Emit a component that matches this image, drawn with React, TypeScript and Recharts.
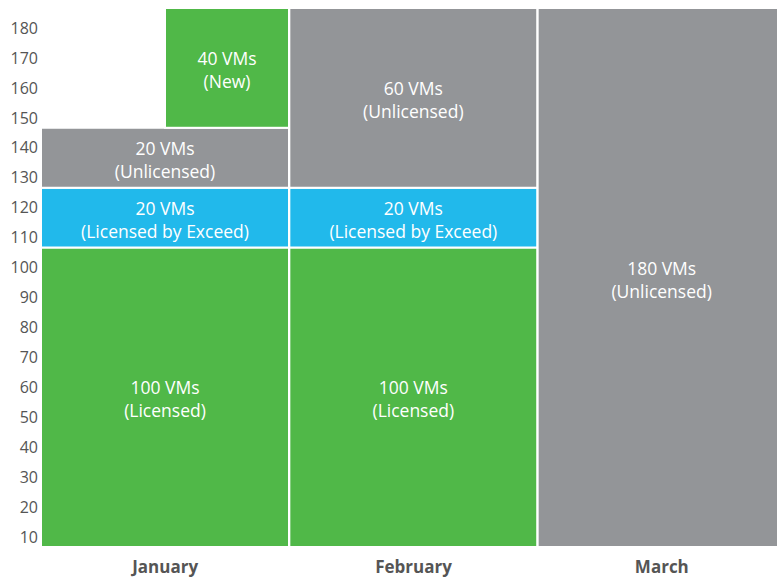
import React from 'react';
import { BarChart, Bar, XAxis, YAxis, LabelList } from 'recharts';

const months = ['January', 'February', 'March'];
const licensed = [100, 100, 0];
const exceed = [20, 20, 0];
const unlicensed = [20, 60, 180];
const newVms = [40, 0, 0];
const yTicks = [10, 20, 30, 40, 50, 60, 70, 80, 90, 100, 110, 120, 130, 140, 150, 160, 170, 180];

const GREEN = '#50b848';
const BLUE = '#21b9eb';
const GRAY = '#939598';
const FONT = '"Open Sans", "Noto Sans", sans-serif';

const data = months.map((month, i) => ({
  month,
  licensed: licensed[i],
  exceed: exceed[i],
  unlicensed: unlicensed[i],
  newVms: newVms[i],
}));

// two-line white label in the middle of a segment
const segmentLabel = (caption: string, half = false) => (props: any) => {
  const { x, y, width, height, value } = props;
  if (!value) return null;
  const cx = half ? x + (width * 3) / 4 : x + width / 2;
  const cy = y + height / 2 + 2;
  return (
    <text x={cx} textAnchor="middle" fill="#fff" fontSize={17.5} fontFamily={FONT}>
      <tspan x={cx} y={cy - 5}>{`${value} VMs`}</tspan>
      <tspan x={cx} y={cy + 18}>{caption}</tspan>
    </text>
  );
};

// the new VMs only take the right half of the column
const HalfBar = (props: any) => {
  const { x, y, width, height, fill } = props;
  if (!height) return null;
  return <rect x={x + width / 2} y={y} width={width / 2} height={height} fill={fill} stroke="#fff" strokeWidth={2} />;
};

const YTick = (props: any) => {
  const { x, y, payload } = props;
  return (
    <text x={x} y={y + 20} dy="0.355em" textAnchor="end" fill="#555" fontSize={16} fontFamily={FONT}>
      {payload.value}
    </text>
  );
};

const XTick = (props: any) => {
  const { x, y, payload } = props;
  return (
    <text x={x} y={y + 12} dy="0.355em" textAnchor="middle" fill="#555" fontSize={17} fontWeight="bold" fontFamily={FONT}>
      {payload.value}
    </text>
  );
};

const App = () => {
  return (
    <div style={{ position: 'absolute', left: 0, top: 0, background: '#fff', overflow: 'hidden', width: 777, height: 583 }}>
      <BarChart
        width={777}
        height={583}
        data={data}
        barCategoryGap={0}
        margin={{ top: 8, right: -9, left: 0, bottom: 0 }}
      >
        <XAxis dataKey="month" axisLine={false} tickLine={false} height={36} tick={<XTick />} />
        <YAxis
          domain={[0, 180]}
          ticks={yTicks}
          width={41}
          axisLine={false}
          tickLine={false}
          tickSize={0}
          tickMargin={3}
          tick={<YTick />}
          interval={0}
        />
        <Bar dataKey="licensed" stackId="a" fill={GREEN} stroke="#fff" strokeWidth={2} isAnimationActive={false}>
          <LabelList dataKey="licensed" content={segmentLabel('(Licensed)')} />
        </Bar>
        <Bar dataKey="exceed" stackId="a" fill={BLUE} stroke="#fff" strokeWidth={2} isAnimationActive={false}>
          <LabelList dataKey="exceed" content={segmentLabel('(Licensed by Exceed)')} />
        </Bar>
        <Bar dataKey="unlicensed" stackId="a" fill={GRAY} stroke="#fff" strokeWidth={2} isAnimationActive={false}>
          <LabelList dataKey="unlicensed" content={segmentLabel('(Unlicensed)')} />
        </Bar>
        <Bar dataKey="newVms" stackId="a" fill={GREEN} shape={<HalfBar />} isAnimationActive={false}>
          <LabelList dataKey="newVms" content={segmentLabel('(New)', true)} />
        </Bar>
      </BarChart>
    </div>
  );
};

export default App;
